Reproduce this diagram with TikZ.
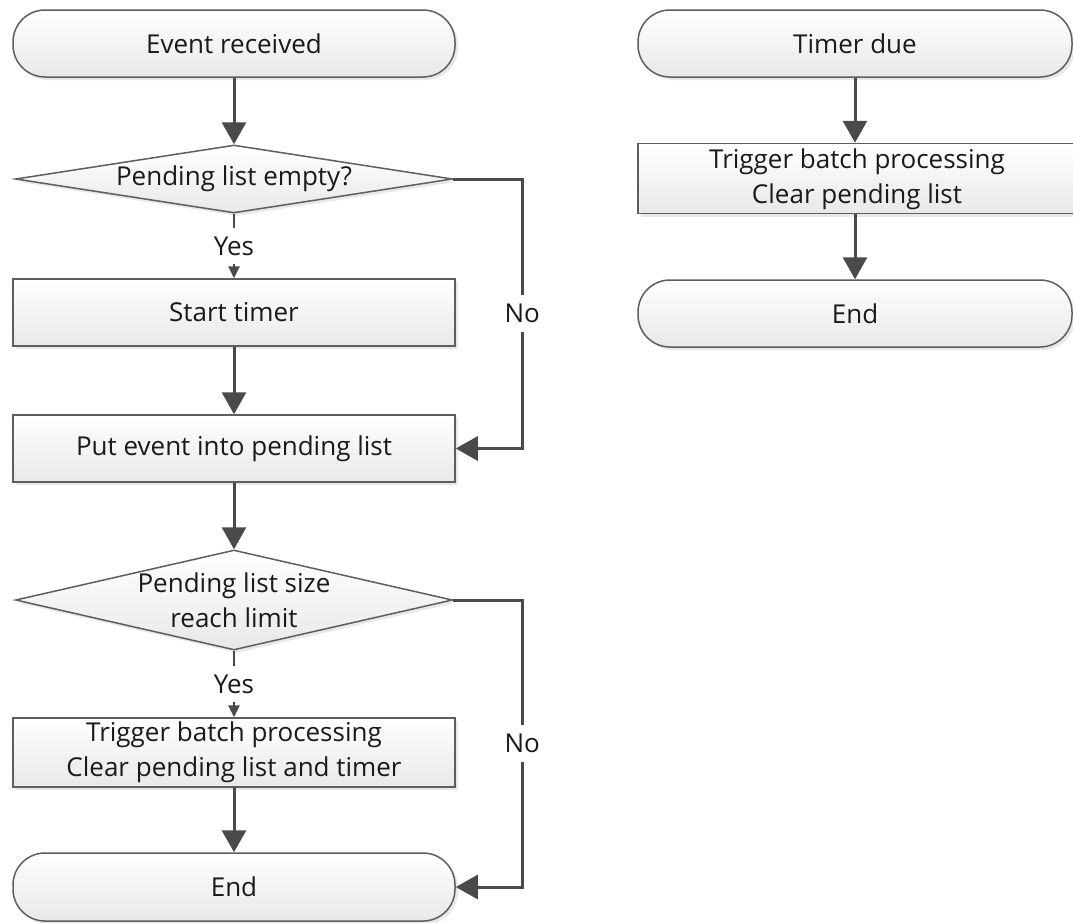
\documentclass[tikz,border=0pt]{standalone}
\usepackage{fontspec}
\setmainfont{Open Sans}
\usetikzlibrary{arrows.meta,shapes.geometric,shadows}
\definecolor{linec}{HTML}{4A4A4A}
\definecolor{borderc}{HTML}{5E5E5E}
\definecolor{txtc}{HTML}{1A1A1A}
\begin{document}
\begin{tikzpicture}[x=1pt,y=-1pt,
  font=\fontsize{26}{35}\selectfont, text=txtc,
  base/.style={draw=borderc, line width=1.5pt, top color=white, bottom color=black!9,
    drop shadow={opacity=0.18, shadow xshift=3pt, shadow yshift=-3pt},
    inner sep=0pt, align=center},
  term/.style={base, rectangle, rounded corners=32pt, minimum width=442pt, minimum height=67pt},
  proc/.style={base, rectangle, minimum width=442pt, minimum height=67pt},
  dec/.style={base, diamond, minimum width=437pt, minimum height=68pt},
  flow/.style={draw=linec, line width=3pt, -{Triangle[width=24pt,length=22pt]}},
  small/.style={draw=linec, line width=2.5pt, -{Triangle[width=11pt,length=12pt]}},
  lbl/.style={fill=white, inner xsep=2pt, inner ysep=9pt}]
\useasboundingbox (0,0) rectangle (1073,922);

% left flow
\node[term] (t1) at (234,43.5) {Event received};
\node[dec] (d1) at (234,179) {};
\node[align=center] (d1t) at (234,179) {Pending list empty?};
\node[proc] (b1) at (234,312.5) {Start timer};
\node[proc] (b2) at (234,448.5) {Put event into pending list};
\node[dec, minimum height=100pt] (d2) at (234,600) {};
\node[align=center] (d2t) at (234,600) {Pending list size\\reach limit};
\node[proc, minimum height=69pt] (b3) at (234,752.5) {Trigger batch processing\\Clear pending list and timer};
\node[term, minimum height=68pt] (e1) at (234,887) {End};

% right flow
\node[term, minimum width=434pt] (t2) at (855,43.5) {Timer due};
\node[proc, minimum width=470pt] (b4) at (873,178.5) {\makebox[438pt]{\begin{tabular}{@{}c@{}}Trigger batch processing\\Clear pending list\end{tabular}}\hspace*{32pt}};
\node[term, minimum width=434pt] (e2) at (855,313.5) {End};

% connectors
\draw[flow] (t1) -- (d1);
\draw[small] (d1) -- node[lbl]{Yes} (b1);
\draw[flow] (b1) -- (b2);
\draw[flow] (d1.east) -- ++(69,0) |- node[lbl,pos=0.25]{No} (b2.east);
\draw[flow] (b2) -- (d2);
\draw[small] (d2) -- node[lbl]{Yes} (b3);
\draw[flow] (d2.east) -- ++(69,0) |- node[lbl,pos=0.25]{No} (e1.east);
\draw[flow] (b3) -- (e1);
\draw[flow] (t2) -- (t2 |- b4.north);
\draw[flow] (t2 |- b4.south) -- (e2);
\end{tikzpicture}
\end{document}
